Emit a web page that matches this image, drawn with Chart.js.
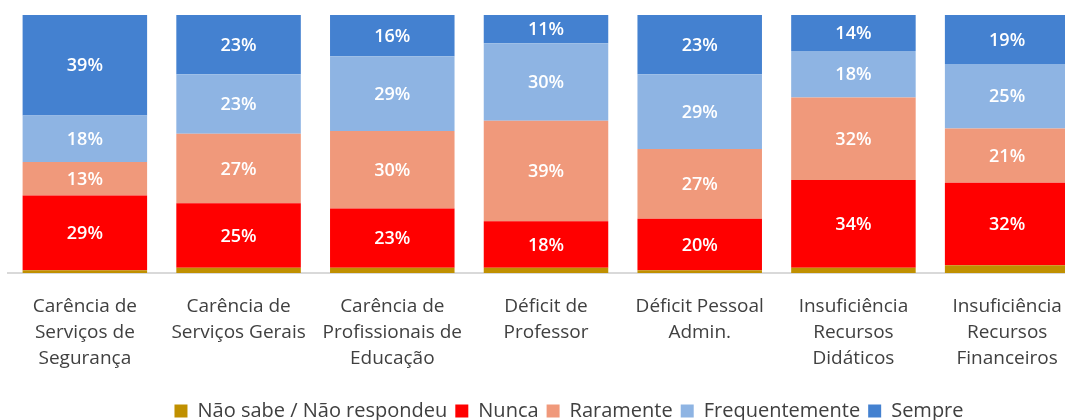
<!DOCTYPE html>
<html lang="pt">
<head>
  <meta charset="UTF-8">
  <title>Problemas na escola</title>
  <script src="https://cdn.jsdelivr.net/npm/chart.js"></script>
  <style>
    body {
      margin: 0;
      overflow: hidden;
      background: #fff;
    }
    .wrap {
      position: absolute;
      left: 0;
      top: 0;
      width: 1138px;
      height: 420px;
    }
  </style>
</head>
<body>
  <div class="wrap">
    <canvas id="chart" width="1138" height="420"></canvas>
  </div>

  <script>
    const categories = [
      ['Carência de', 'Serviços de', 'Segurança'],
      ['Carência de', 'Serviços Gerais'],
      ['Carência de', 'Profissionais de', 'Educação'],
      ['Déficit de', 'Professor'],
      ['Déficit Pessoal', 'Admin.'],
      ['Insuficiência', 'Recursos', 'Didáticos'],
      ['Insuficiência', 'Recursos', 'Financeiros']
    ];

    const naoSabe        = [1, 2, 2, 2, 1, 2, 3];
    const nunca          = [29, 25, 23, 18, 20, 34, 32];
    const raramente      = [13, 27, 30, 39, 27, 32, 21];
    const frequentemente = [18, 23, 29, 30, 29, 18, 25];
    const sempre         = [39, 23, 16, 11, 23, 14, 19];

    const FONT = "'Open Sans', 'Noto Sans', sans-serif";

    // white % labels in the middle of each segment (skip "Não sabe")
    const segmentLabels = {
      id: 'segmentLabels',
      afterDatasetsDraw(chart) {
        const ctx = chart.ctx;
        ctx.save();
        ctx.fillStyle = '#fff';
        ctx.font = "600 18px " + FONT;
        ctx.textAlign = 'center';
        ctx.textBaseline = 'middle';
        chart.data.datasets.forEach((ds, i) => {
          if (i === 0) return;
          chart.getDatasetMeta(i).data.forEach((bar, j) => {
            const p = bar.getProps(['x', 'y', 'base'], true);
            ctx.fillText(ds.data[j] + '%', p.x, (p.y + p.base) / 2 + 1);
          });
        });
        ctx.restore();
      }
    };

    new Chart(document.getElementById('chart'), {
      type: 'bar',
      data: {
        labels: categories,
        datasets: [
          { label: 'Não sabe / Não respondeu', data: naoSabe, backgroundColor: '#C09000' },
          { label: 'Nunca', data: nunca, backgroundColor: '#FF0000' },
          { label: 'Raramente', data: raramente, backgroundColor: '#F0997B' },
          { label: 'Frequentemente', data: frequentemente, backgroundColor: '#8EB4E3' },
          { label: 'Sempre', data: sempre, backgroundColor: '#4481D0' }
        ]
      },
      options: {
        responsive: false,
        animation: false,
        layout: { padding: { top: 15, left: 8, right: 8, bottom: -11 } },
        datasets: {
          bar: { categoryPercentage: 0.81, barPercentage: 1 }
        },
        scales: {
          x: {
            stacked: true,
            grid: { display: false },
            border: { color: '#D9D9D9', width: 2 },
            ticks: {
              color: '#404040',
              font: { family: FONT, size: 19, lineHeight: 1.37 },
              padding: 13,
              maxRotation: 0,
              autoSkip: false
            },
            // a little blank room between the labels and the legend
            afterFit(scale) { scale.height += 8; }
          },
          y: {
            stacked: true,
            display: false,
            min: 0,
            max: 100
          },
          y2: {
            position: 'right',
            display: true,
            grid: { display: false },
            border: { display: false },
            ticks: { display: false },
            afterFit(scale) { scale.width = 46; }
          }
        },
        plugins: {
          legend: {
            position: 'bottom',
            labels: {
              color: '#404040',
              font: { family: FONT, size: 20 },
              boxWidth: 13,
              boxHeight: 13,
              padding: 8
            }
          },
          tooltip: { enabled: false }
        }
      },
      plugins: [segmentLabels]
    });
  </script>
</body>
</html>
